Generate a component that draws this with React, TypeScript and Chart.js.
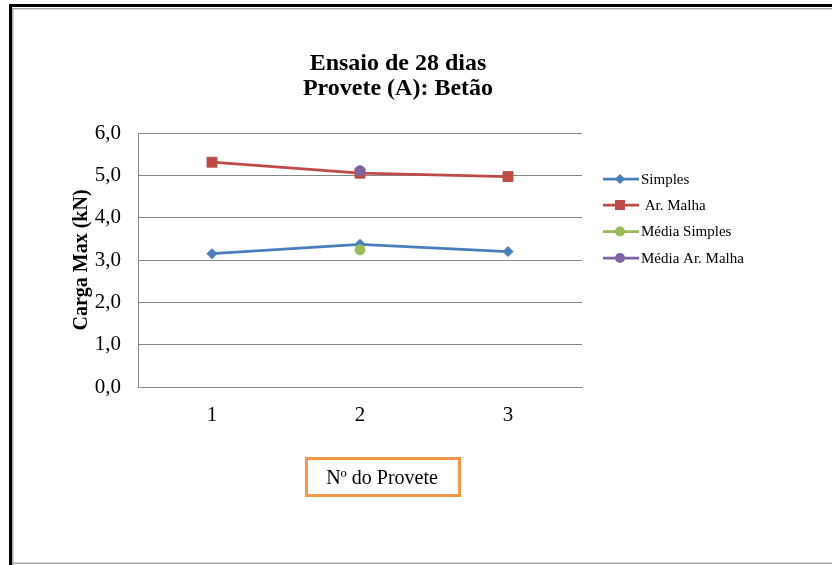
import { useEffect, useRef } from 'react';
import { Chart, registerables } from 'chart.js';

Chart.register(...registerables);

// Carga máxima (kN) por provete, ensaio aos 28 dias
const provetes = ['1', '2', '3'];
const simples = [3.15, 3.37, 3.2];
const arMalha = [5.31, 5.05, 4.97];
const mediaSimples = [null, 3.24, null];
const mediaArMalha = [null, 5.11, null];

const seriesNames = ['Simples', ' Ar. Malha', 'Média Simples', 'Média Ar. Malha'];
const seriesColors = ['#4A7EBB', '#BE4B48', '#9BBB59', '#8064A2'];
const seriesMarkers = ['rectRot', 'rect', 'circle', 'circle'];

const titleLines = ['Ensaio de 28 dias', 'Provete (A): Betão'];
const yAxisTitle = 'Carga Max (kN)';
const xAxisTitle = 'Nº do Provete';

const yMin = 0;
const yMax = 6;
const yStep = 1;

const SERIF = "'Liberation Serif', 'Times New Roman', serif";
const W = 832;
const H = 565;

function marker(ctx: CanvasRenderingContext2D, style: string, x: number, y: number, color: string) {
  ctx.save();
  ctx.fillStyle = color;
  ctx.beginPath();
  if (style === 'rectRot') {
    const r = 5;
    ctx.moveTo(x, y - r);
    ctx.lineTo(x + r, y);
    ctx.lineTo(x, y + r);
    ctx.lineTo(x - r, y);
    ctx.closePath();
  } else if (style === 'rect') {
    const s = 5;
    ctx.rect(x - s, y - s, 2 * s, 2 * s);
  } else {
    ctx.arc(x, y, 5, 0, Math.PI * 2);
  }
  ctx.fill();
  ctx.restore();
}

const framePlugin = {
  id: 'frame',
  beforeDraw(chart: any) {
    const ctx: CanvasRenderingContext2D = chart.ctx;
    ctx.save();
    ctx.fillStyle = '#ffffff';
    ctx.fillRect(0, 0, W, H);
    // outer dark border (left and top)
    ctx.fillStyle = '#000000';
    ctx.fillRect(9, 4, 3, H - 4);
    ctx.fillRect(9, 4, W - 9, 3);
    // inner grey border
    ctx.fillStyle = '#A6A6A6';
    ctx.fillRect(12, 8, 1.5, H - 8);
    ctx.fillRect(12, 8, W - 12, 1.5);
    ctx.fillRect(12, 562.5, W - 12, 1.5);
    ctx.restore();
  },
  afterDraw(chart: any) {
    const ctx: CanvasRenderingContext2D = chart.ctx;
    ctx.save();
    // title
    ctx.fillStyle = '#000000';
    ctx.font = `bold 24px ${SERIF}`;
    ctx.textAlign = 'center';
    ctx.textBaseline = 'alphabetic';
    ctx.fillText(titleLines[0], 398, 70);
    ctx.fillText(titleLines[1], 398, 95);

    // legend
    const legendY = [179, 205, 231.5, 258];
    ctx.font = `15px ${SERIF}`;
    ctx.textAlign = 'left';
    ctx.textBaseline = 'middle';
    seriesNames.forEach((name, i) => {
      const y = legendY[i];
      ctx.strokeStyle = seriesColors[i];
      ctx.lineWidth = 2.75;
      ctx.beginPath();
      ctx.moveTo(603, y);
      ctx.lineTo(639, y);
      ctx.stroke();
      marker(ctx, seriesMarkers[i], 620, y, seriesColors[i]);
      ctx.fillStyle = '#000000';
      ctx.fillText(name, 641, y + 1);
    });

    // x axis title inside an orange box
    ctx.strokeStyle = '#F79646';
    ctx.lineWidth = 3;
    ctx.strokeRect(306.5, 458.5, 153, 37);
    ctx.fillStyle = '#000000';
    ctx.font = `20px ${SERIF}`;
    ctx.textAlign = 'center';
    ctx.textBaseline = 'alphabetic';
    ctx.fillText(xAxisTitle, 382, 484);
    ctx.restore();
  },
};

export default function App() {
  const canvasRef = useRef<HTMLCanvasElement | null>(null);

  useEffect(() => {
    if (!canvasRef.current) return;
    const lineDs = (i: number, data: (number | null)[], order: number, radius: number) => ({
      label: seriesNames[i].trim(),
      data,
      order,
      borderColor: seriesColors[i],
      backgroundColor: seriesColors[i],
      borderWidth: 2.75,
      pointStyle: seriesMarkers[i] as any,
      pointRadius: radius,
      pointBorderWidth: 1,
      pointBackgroundColor: seriesColors[i],
      pointBorderColor: seriesColors[i],
      tension: 0,
      spanGaps: false,
    });

    const chart = new Chart(canvasRef.current, {
      type: 'line',
      data: {
        labels: provetes,
        datasets: [
          lineDs(0, simples, 3, 5),
          lineDs(1, arMalha, 2, 7),
          lineDs(2, mediaSimples, 1, 5),
          lineDs(3, mediaArMalha, 0, 5),
        ],
      },
      options: {
        animation: false,
        responsive: false,
        devicePixelRatio: 1,
        layout: { padding: { left: 0, right: 250, top: 133, bottom: 118 } },
        plugins: {
          legend: { display: false },
          title: { display: false },
          tooltip: { enabled: false },
        },
        scales: {
          x: {
            offset: true,
            grid: { display: false, drawTicks: false },
            border: { display: true, color: '#878787', width: 1 },
            ticks: {
              color: '#000000',
              font: { family: SERIF, size: 21 },
              padding: 16,
            },
            afterFit(scale: any) {
              scale.height = 60;
            },
          },
          y: {
            min: yMin,
            max: yMax,
            ticks: {
              stepSize: yStep,
              color: '#000000',
              font: { family: SERIF, size: 21 },
              padding: 17,
              callback: (v: any) => Number(v).toFixed(1).replace('.', ','),
            },
            grid: { color: '#878787', lineWidth: 1, drawTicks: false },
            border: { display: true, color: '#878787', width: 1 },
            title: {
              display: true,
              text: yAxisTitle,
              color: '#000000',
              font: { family: SERIF, size: 20, weight: 'bold' },
              padding: { top: 70, bottom: 0 },
            },
            afterFit(scale: any) {
              scale.width = 138;
            },
          },
        },
      },
      plugins: [framePlugin],
    });
    return () => chart.destroy();
  }, []);

  return (
    <div style={{ position: 'absolute', left: 0, top: 0, width: W, height: H }}>
      <canvas ref={canvasRef} width={W} height={H} style={{ display: 'block', width: W, height: H }} />
    </div>
  );
}
